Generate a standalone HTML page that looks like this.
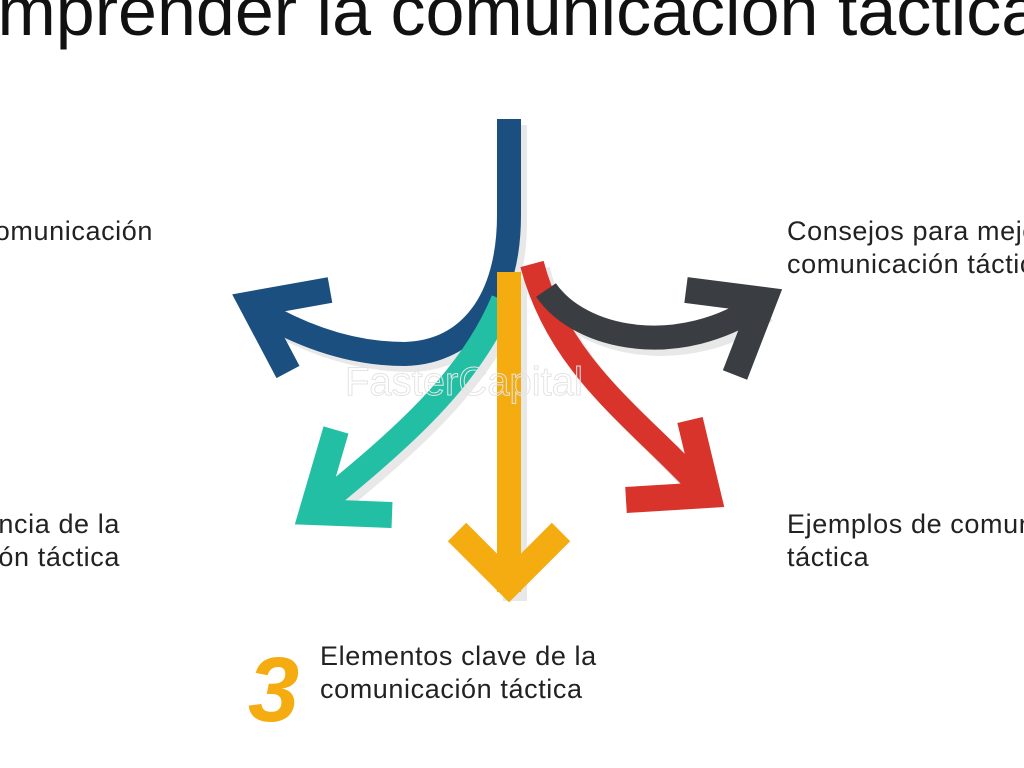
<!DOCTYPE html>
<html><head><meta charset="utf-8"><style>
html,body{margin:0;width:1024px;height:768px;overflow:hidden;background:#fff;font-family:"Liberation Sans",sans-serif;}
.wrap{position:relative;width:1024px;height:768px;overflow:hidden;}
.t{position:absolute;font-size:27px;letter-spacing:0.6px;color:#222;line-height:33px;white-space:nowrap;}
</style></head><body><div class="wrap">
<div style="position:absolute;left:-92px;top:-29px;font-size:70px;color:#111;white-space:nowrap;">Comprender la comunicación táctica</div>
<svg width="1024" height="768" style="position:absolute;left:0;top:0" fill="none" stroke-linecap="butt" stroke-linejoin="miter">
<g transform="translate(6,6)" stroke="#e8e8e8" stroke-width="24">
<path d="M509 119 L509 215 C509 300 470 352 405 354 C350 354 300 335 258 310"/>
<path d="M505 300 C470 380 400 440 315 510"/>
<path d="M509 272 L509 595"/>
<path d="M532 264 C560 370 640 420 705 495"/>
<path d="M546 290 C580 340 680 360 760 305"/>
</g>
<g stroke-width="24">
<path stroke="#1b4f80" d="M509 119 L509 215 C509 300 470 352 405 354 C350 354 300 335 258 310"/>
<polyline stroke="#1b4f80" stroke-width="26" points="330,290 252,304 288,372"/>
<path stroke="#22bfa4" d="M503 300 C470 380 400 440 318 507"/>
<polyline stroke="#22bfa4" stroke-width="26" points="336,430 312,512 392,515"/>
<path stroke="#d9342b" d="M532 264 C560 370 640 420 705 492"/>
<polyline stroke="#d9342b" stroke-width="26" points="690,420 708,495 626,500"/>
<path stroke="#3a3e42" d="M546 290 C580 340 680 360 762 303"/>
<polyline stroke="#3a3e42" stroke-width="26" points="686,290 764,300 735,375"/>
<path stroke="#f4ac10" d="M509 272 L509 592"/>
<polyline stroke="#f4ac10" stroke-width="26" points="457,532 509,584 561,532"/>
</g>
<text x="345" y="395" font-family="Liberation Sans" font-size="40" fill="none" stroke="#e4e4e4" stroke-width="1">FasterCapital</text>
</svg>
<div class="t" style="right:871px;top:215px;text-align:right;">La comunicación</div>
<div class="t" style="right:904px;top:508px;text-align:right;">Importancia de la<br>comunicación táctica</div>
<div class="t" style="left:787px;top:215px;">Consejos para mejorar la<br>comunicación táctica</div>
<div class="t" style="left:787px;top:508px;">Ejemplos de comunicación<br>táctica</div>
<div class="t" style="left:320px;top:640px;">Elementos clave de la<br>comunicación táctica</div>
<div style="position:absolute;left:248px;top:640px;font-size:92px;font-weight:bold;font-style:italic;color:#f4ac10;line-height:100px;">3</div>
</div></body></html>
